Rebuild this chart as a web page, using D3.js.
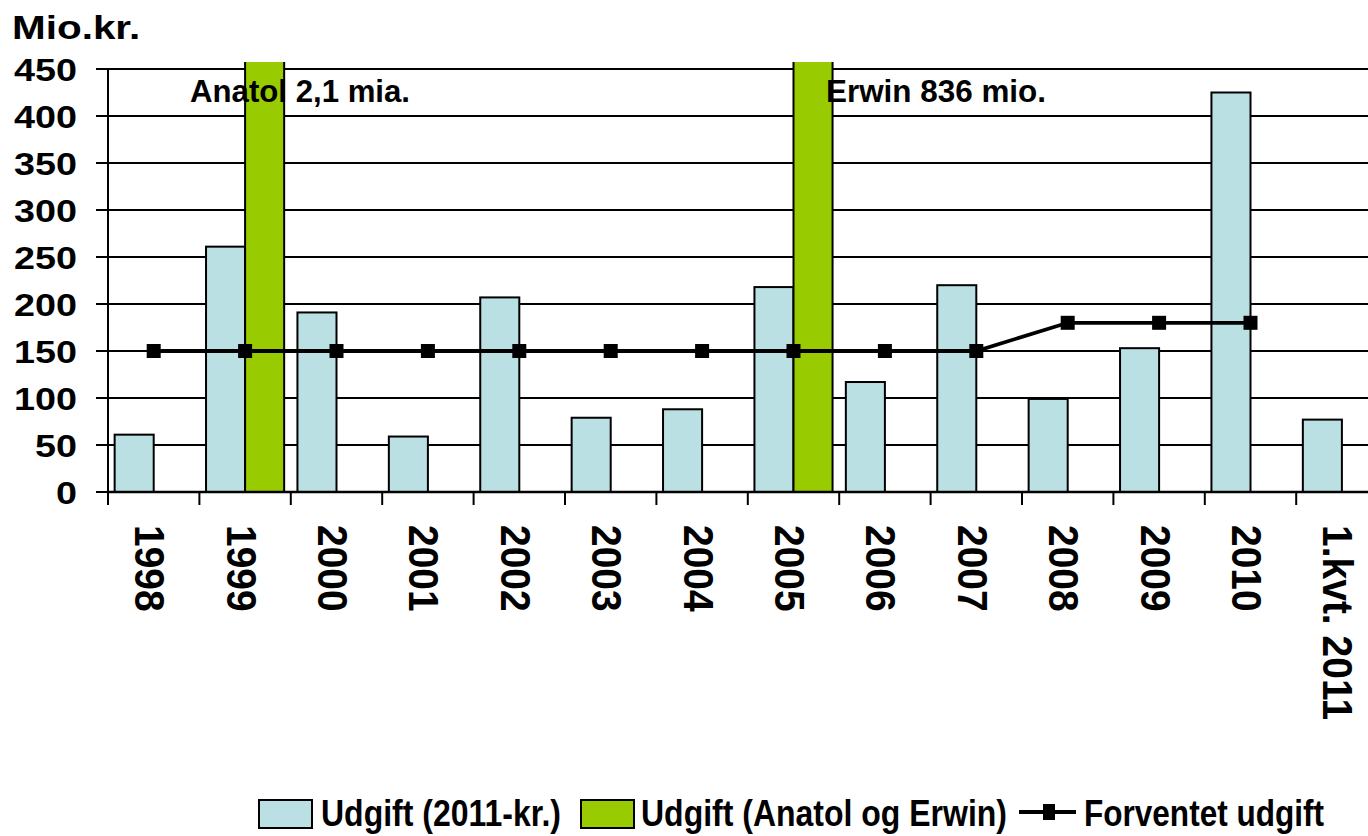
<!DOCTYPE html>
<html>
<head>
<meta charset="utf-8">
<script src="https://cdn.jsdelivr.net/npm/d3@7"></script>
<style>
  body { margin: 0; background: #fff; }
  svg { display: block; }
  text { font-family: Arial, "Liberation Sans", sans-serif; font-weight: bold; fill: #000; }
</style>
</head>
<body>
<svg id="chart" width="1368" height="836"></svg>
<script>
// values
var categories = ["1998", "1999", "2000", "2001", "2002", "2003", "2004",
    "2005", "2006", "2007", "2008", "2009", "2010", "1.kvt. 2011"];
var udgift = [61, 261, 191, 59, 207, 79, 88, 218, 117, 220, 99, 153, 425, 77];
var anatolErwin = [null, 2100, null, null, null, null, null, 836, null, null, null, null, null, null];
var forventet = [150, 150, 150, 150, 150, 150, 150, 150, 150, 150, 180, 180, 180, null];
var yTicks = [0, 50, 100, 150, 200, 250, 300, 350, 400, 450];
var notes = ["Anatol 2,1 mia.", "Erwin 836 mio."];
var legendItems = ["Udgift (2011-kr.)", "Udgift (Anatol og Erwin)", "Forventet udgift"];

var blue = "#BBE0E3", green = "#99CC00";

var svg = d3.select("#chart");

var plotLeft = 108, plotTop = 69, plotBottom = 492;
var step = 91.4;

var x = d3.scaleBand()
    .domain(categories)
    .range([plotLeft, plotLeft + step * categories.length]);

var x1 = d3.scaleBand()
    .domain([0, 1])
    .range([0, x.bandwidth()])
    .paddingOuter(0.17);

var y = d3.scaleLinear()
    .domain([0, 450])
    .range([plotBottom, plotTop]);

svg.append("defs").append("clipPath")
    .attr("id", "plot")
    .append("rect")
    .attr("x", plotLeft)
    .attr("y", 62)
    .attr("width", 1368 - plotLeft)
    .attr("height", plotBottom - 62);

// gridlines
svg.append("g")
    .selectAll("line")
    .data(yTicks)
    .enter().append("line")
    .attr("x1", 96)
    .attr("x2", 1368)
    .attr("y1", function (d) { return y(d); })
    .attr("y2", function (d) { return y(d); })
    .attr("stroke", "#000")
    .attr("stroke-width", 2);

// bars
var bars = svg.append("g").attr("clip-path", "url(#plot)");

bars.selectAll("rect.udgift")
    .data(udgift)
    .enter().append("rect")
    .attr("class", "udgift")
    .attr("x", function (d, i) { return x(categories[i]) + x1(0); })
    .attr("y", function (d) { return y(d); })
    .attr("width", x1.bandwidth())
    .attr("height", function (d) { return plotBottom - y(d); })
    .attr("fill", blue)
    .attr("stroke", "#000")
    .attr("stroke-width", 2);

bars.selectAll("rect.storm")
    .data(anatolErwin.map(function (d, i) { return { v: d, c: categories[i] }; })
        .filter(function (d) { return d.v !== null; }))
    .enter().append("rect")
    .attr("class", "storm")
    .attr("x", function (d) { return x(d.c) + x1(1); })
    .attr("y", function (d) { return y(d.v); })
    .attr("width", x1.bandwidth())
    .attr("height", function (d) { return plotBottom - y(d.v); })
    .attr("fill", green)
    .attr("stroke", "#000")
    .attr("stroke-width", 2);

// expected line
var pts = forventet.map(function (d, i) { return { v: d, c: categories[i] }; })
    .filter(function (d) { return d.v !== null; });

var line = d3.line()
    .x(function (d) { return x(d.c) + x.bandwidth() / 2; })
    .y(function (d) { return y(d.v); });

svg.append("path")
    .datum(pts)
    .attr("d", line)
    .attr("fill", "none")
    .attr("stroke", "#000")
    .attr("stroke-width", 3.8);

svg.append("g")
    .selectAll("rect")
    .data(pts)
    .enter().append("rect")
    .attr("x", function (d) { return x(d.c) + x.bandwidth() / 2 - 7; })
    .attr("y", function (d) { return y(d.v) - 7; })
    .attr("width", 14)
    .attr("height", 14)
    .attr("fill", "#000");

// axes
svg.append("line")
    .attr("x1", plotLeft).attr("x2", plotLeft)
    .attr("y1", plotTop).attr("y2", plotBottom + 13)
    .attr("stroke", "#000").attr("stroke-width", 2);

svg.append("line")
    .attr("x1", plotLeft).attr("x2", 1368)
    .attr("y1", plotBottom).attr("y2", plotBottom)
    .attr("stroke", "#000").attr("stroke-width", 2.5);

svg.append("g")
    .selectAll("line")
    .data(categories)
    .enter().append("line")
    .attr("x1", function (d) { return x(d); })
    .attr("x2", function (d) { return x(d); })
    .attr("y1", plotBottom)
    .attr("y2", plotBottom + 13)
    .attr("stroke", "#000")
    .attr("stroke-width", 2);

// y labels (source font is stretched sideways)
svg.append("g")
    .selectAll("text")
    .data(yTicks)
    .enter().append("text")
    .attr("transform", function (d) { return "translate(77," + (y(d) + 11.5) + ") scale(1.18,1)"; })
    .attr("text-anchor", "end")
    .style("font-size", "32px")
    .text(function (d) { return d; });

svg.append("text")
    .attr("transform", "translate(12,39) scale(1.19,1)")
    .style("font-size", "34px")
    .text("Mio.kr.");

// x labels, rotated
svg.append("g")
    .selectAll("text")
    .data(categories)
    .enter().append("text")
    .attr("transform", function (d) {
        return "translate(" + (x(d) + x.bandwidth() / 2 - 18.5) + ",525) rotate(90) scale(1,1.1)";
    })
    .style("font-size", "39px")
    .text(function (d) { return d; });

// annotations
var noteX = [190, 826];
svg.append("g")
    .selectAll("text")
    .data(notes)
    .enter().append("text")
    .attr("x", function (d, i) { return noteX[i]; })
    .attr("y", 102)
    .attr("textLength", 220)
    .attr("lengthAdjust", "spacingAndGlyphs")
    .style("font-size", "32px")
    .text(function (d) { return d; });

// legend
var lg = svg.append("g");
var ly = 814;

lg.append("rect").attr("x", 259).attr("y", ly - 14).attr("width", 53).attr("height", 28)
    .attr("fill", blue).attr("stroke", "#000").attr("stroke-width", 2);
lg.append("rect").attr("x", 581).attr("y", ly - 14).attr("width", 53).attr("height", 28)
    .attr("fill", green).attr("stroke", "#000").attr("stroke-width", 2);
lg.append("line").attr("x1", 1019).attr("x2", 1076).attr("y1", ly - 2).attr("y2", ly - 2)
    .attr("stroke", "#000").attr("stroke-width", 4);
lg.append("rect").attr("x", 1043).attr("y", ly - 10).attr("width", 12).attr("height", 16)
    .attr("fill", "#000");

var legendX = [321, 641, 1084];
var legendW = [240, 366, 240];
lg.selectAll("text")
    .data(legendItems)
    .enter().append("text")
    .attr("x", function (d, i) { return legendX[i]; })
    .attr("y", 826)
    .attr("textLength", function (d, i) { return legendW[i]; })
    .attr("lengthAdjust", "spacingAndGlyphs")
    .style("font-size", "37px")
    .text(function (d) { return d; });
</script>
</body>
</html>
